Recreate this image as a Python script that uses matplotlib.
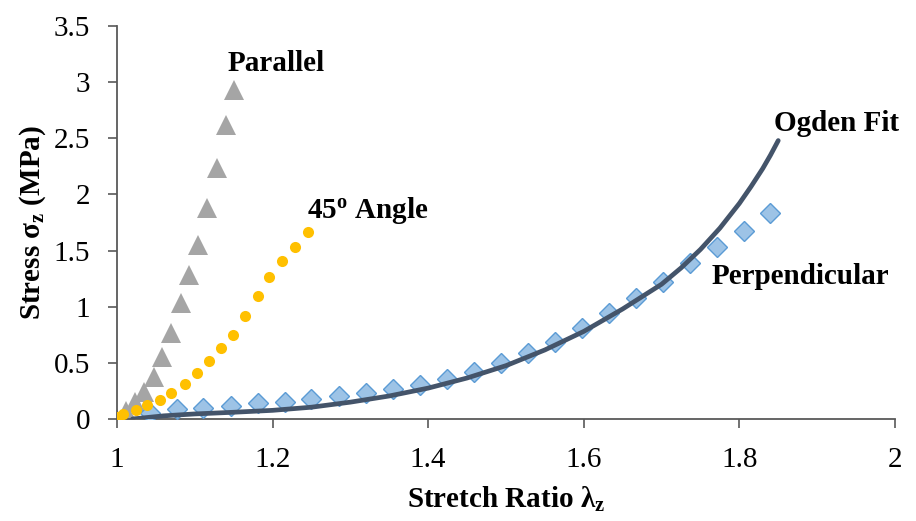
import matplotlib.pyplot as plt

plt.rcParams['font.family'] = 'Liberation Serif'
plt.rcParams['mathtext.fontset'] = 'custom'
plt.rcParams['mathtext.rm'] = 'Liberation Serif'
plt.rcParams['mathtext.it'] = 'Liberation Serif:italic'
plt.rcParams['mathtext.bf'] = 'Liberation Serif:bold'

# Parallel direction (triangles)
par_x = [1.000, 1.012, 1.023, 1.035, 1.047, 1.058, 1.070, 1.082, 1.093, 1.104,
         1.116, 1.128, 1.140, 1.150]
par_y = [0.00, 0.07, 0.15, 0.24, 0.37, 0.55, 0.77, 1.03, 1.28, 1.55,
         1.88, 2.24, 2.62, 2.93]

# 45 degree direction (circles)
ang_x = [1.000, 1.008, 1.024, 1.039, 1.055, 1.070, 1.087, 1.103, 1.118, 1.134,
         1.149, 1.165, 1.181, 1.196, 1.212, 1.229, 1.245]
ang_y = [0.02, 0.045, 0.08, 0.125, 0.169, 0.229, 0.312, 0.407, 0.516, 0.630,
         0.748, 0.917, 1.095, 1.262, 1.410, 1.534, 1.668]

# Perpendicular direction (diamonds)
perp_x = [1.042, 1.077, 1.111, 1.146, 1.181, 1.216, 1.250, 1.285, 1.320, 1.355,
          1.389, 1.424, 1.459, 1.493, 1.528, 1.563, 1.598, 1.632, 1.667, 1.702,
          1.736, 1.771, 1.806, 1.840]
perp_y = [0.051, 0.085, 0.100, 0.116, 0.140, 0.154, 0.175, 0.205, 0.229, 0.264,
          0.303, 0.354, 0.421, 0.496, 0.585, 0.688, 0.808, 0.941, 1.075, 1.223,
          1.386, 1.534, 1.677, 1.832]

# Ogden model curve
fit_x = [1.02, 1.06, 1.10, 1.15, 1.20, 1.25, 1.30, 1.35, 1.40, 1.45,
         1.50, 1.55, 1.60, 1.65, 1.70, 1.725, 1.75, 1.775, 1.80, 1.815,
         1.83, 1.84, 1.85]
fit_y = [0.00, 0.028, 0.045, 0.06, 0.077, 0.105, 0.15, 0.205, 0.275, 0.365,
         0.475, 0.615, 0.78, 0.98, 1.20, 1.345, 1.51, 1.70, 1.92, 2.07,
         2.23, 2.35, 2.48]

x_ticks = [1, 1.2, 1.4, 1.6, 1.8, 2]
x_tick_labels = ['1', '1.2', '1.4', '1.6', '1.8', '2']
y_ticks = [0, 0.5, 1, 1.5, 2, 2.5, 3, 3.5]
y_tick_labels = ['0', '0.5', '1', '1.5', '2', '2.5', '3', '3.5']

fig = plt.figure(figsize=(9.16, 5.21), dpi=100)
ax = fig.add_axes([0.1277, 0.1958, 0.8493, 0.7542])

ax.plot(par_x, par_y, linestyle='none', marker='^', markersize=15,
        color='#a5a5a5', markeredgewidth=0, zorder=2)
ax.plot(perp_x, perp_y, linestyle='none', marker='D', markersize=10.5,
        markerfacecolor='#9dc3e6', markeredgecolor='#5b9bd5',
        markeredgewidth=1.0, zorder=3)
ax.plot(fit_x, fit_y, color='#44546a', linewidth=3.4,
        solid_capstyle='round', solid_joinstyle='round', zorder=4)
ax.plot(ang_x, ang_y, linestyle='none', marker='o', markersize=8,
        color='#ffc000', markeredgewidth=0, zorder=5)

# curve labels
bold = dict(fontsize=21, fontweight='bold', va='center', ha='left')
ax.text(1.142, 3.17, 'Parallel', **bold)
ax.text(1.244, 1.86, r'45$^{\mathbf{o}}$ Angle', **bold)
ax.text(1.844, 2.63, 'Ogden Fit', **bold)
ax.text(1.764, 1.27, 'Perpendicular', **bold)

ax.set_xlim(1, 2)
ax.set_ylim(0, 3.5)
ax.set_xticks(x_ticks)
ax.set_xticklabels(x_tick_labels)
ax.set_yticks(y_ticks)
ax.set_yticklabels(y_tick_labels)

for side in ['top', 'right']:
    ax.spines[side].set_visible(False)
for side in ['left', 'bottom']:
    ax.spines[side].set_color('#595959')
    ax.spines[side].set_linewidth(1.3)

ax.tick_params(axis='both', direction='out', length=6.5, width=1.2,
               color='#595959', labelsize=21)
ax.tick_params(axis='y', pad=13)
ax.tick_params(axis='x', pad=14)

ax.set_xlabel(r'Stretch Ratio $\mathbf{\lambda_z}$', fontsize=21,
              fontweight='bold', labelpad=8)
ax.set_ylabel(r'Stress $\mathbf{\sigma_z}$ (MPa)', fontsize=21,
              fontweight='bold', labelpad=4)

fig.savefig('out.png', dpi=100)
